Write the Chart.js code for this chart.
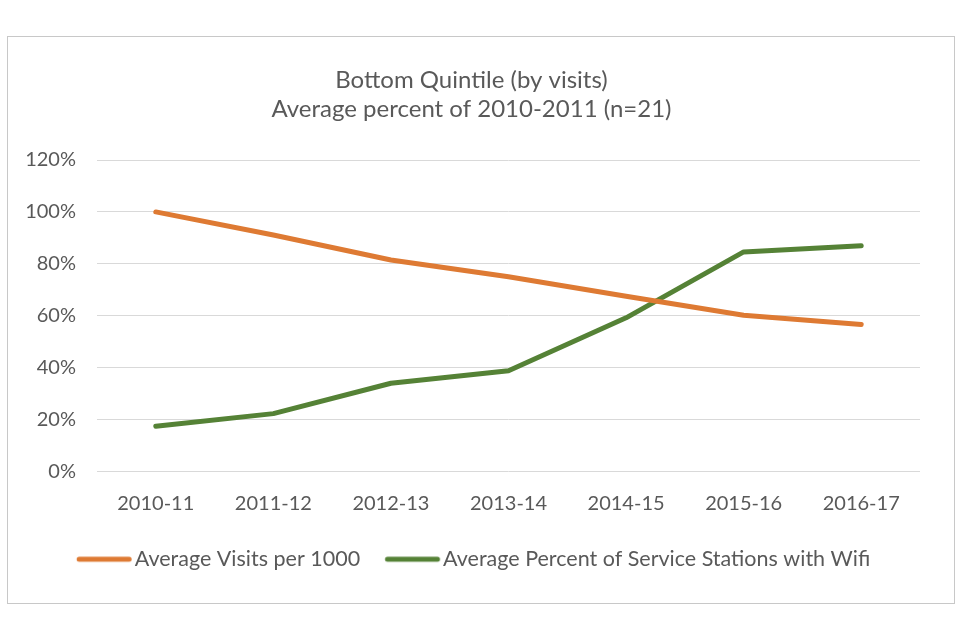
<!DOCTYPE html>
<html>
<head>
<meta charset="utf-8">
<script src="https://cdn.jsdelivr.net/npm/chart.js@4.4.0/dist/chart.umd.min.js"></script>
<style>
  html, body { margin: 0; padding: 0; background: #ffffff; }
  #frame { position: absolute; left: 7px; top: 36px; width: 948px; height: 568px; border: 1px solid #c8c8c8; box-sizing: border-box; background: #fff; }
  #wrap { position: absolute; left: 0; top: 0; width: 946px; height: 566px; }
</style>
</head>
<body>
<div id="frame"><div id="wrap"><canvas id="c"></canvas></div></div>
<script>
const categories = ['2010-11', '2011-12', '2012-13', '2013-14', '2014-15', '2015-16', '2016-17'];
const visitsPer1000 = [100, 91.1, 81.5, 75.0, 67.5, 60.2, 56.6];
const wifiStations = [17.4, 22.3, 34.0, 38.8, 59.2, 84.6, 87.0];
const yTicks = [0, 20, 40, 60, 80, 100, 120];
const titleLines = ['Bottom Quintile (by visits)', 'Average percent of 2010-2011 (n=21)'];
const seriesNames = ['Average Visits per 1000', 'Average Percent of Service Stations with Wifi'];
const seriesColors = ['#DE7A33', '#558236'];

const FONT = 'Lato, "Liberation Sans", sans-serif';
const TEXT = '#595959';

// legend swatch geometry
const LFS = 21.5, LINE_LEN = 55, GAP_TXT = 3, EXTRA = 4;
const BOXW = LINE_LEN + GAP_TXT - LFS / 2 + EXTRA;
function swatch(color) {
  const c = document.createElement('canvas');
  c.width = Math.round(BOXW + LFS);
  c.height = 8;
  const g = c.getContext('2d');
  g.strokeStyle = color;
  g.lineWidth = 5;
  g.lineCap = 'round';
  g.beginPath();
  g.moveTo(EXTRA + LFS / 2 + 2.5, 4);
  g.lineTo(EXTRA + LFS / 2 + LINE_LEN - 2.5, 4);
  g.stroke();
  return c;
}

new Chart(document.getElementById('c'), {
  type: 'line',
  data: {
    labels: categories,
    datasets: [
      { label: seriesNames[0], data: visitsPer1000, borderColor: seriesColors[0], backgroundColor: seriesColors[0],
        borderWidth: 5, pointRadius: 0, tension: 0, borderCapStyle: 'round', borderJoinStyle: 'round' },
      { label: seriesNames[1], data: wifiStations, borderColor: seriesColors[1], backgroundColor: seriesColors[1],
        borderWidth: 5, pointRadius: 0, tension: 0, borderCapStyle: 'round', borderJoinStyle: 'round' }
    ]
  },
  options: {
    responsive: true,
    maintainAspectRatio: false,
    animation: false,
    layout: { padding: { left: 15, right: 34, top: 0, bottom: 23 } },
    plugins: {
      title: {
        display: true,
        text: titleLines,
        color: TEXT,
        font: { family: FONT, size: 24, weight: 'normal', lineHeight: 1.2 },
        padding: { top: 28.6, bottom: 36.8 }
      },
      legend: {
        position: 'bottom',
        labels: {
          color: TEXT,
          font: { family: FONT, size: LFS },
          usePointStyle: true,
          pointStyleWidth: BOXW,
          boxHeight: 8,
          padding: 21,
          generateLabels(chart) {
            return chart.data.datasets.map((ds, i) => ({
              text: ds.label, fillStyle: ds.borderColor, strokeStyle: ds.borderColor,
              lineWidth: 0, datasetIndex: i, hidden: false, fontColor: TEXT,
              pointStyle: swatch(ds.borderColor)
            }));
          }
        }
      },
      tooltip: { enabled: false }
    },
    scales: {
      x: {
        offset: true,
        grid: { display: false },
        border: { display: false },
        ticks: { color: TEXT, font: { family: FONT, size: 20 }, padding: 12, maxRotation: 0 }
      },
      y: {
        min: 0, max: 120,
        afterBuildTicks(axis) { axis.ticks = yTicks.map(v => ({ value: v })); },
        afterFit(axis) { axis.width = 74; },
        grid: { color: '#d9d9d9', lineWidth: 1, drawTicks: false },
        border: { display: false },
        ticks: { color: TEXT, font: { family: FONT, size: 20 }, padding: 21, callback: v => v + '%' }
      }
    }
  }
});
</script>
</body>
</html>
